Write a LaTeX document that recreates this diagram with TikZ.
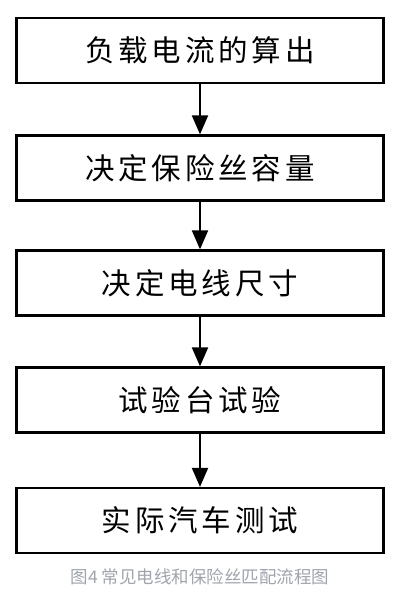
\documentclass[tikz,border=0pt]{standalone}
\usepackage{fontspec}
\newfontfamily\cjk[LetterSpace=13]{Noto Sans CJK SC}
\newfontfamily\cjkcap{Noto Sans CJK SC}
\usetikzlibrary{arrows.meta}
\definecolor{capgray}{RGB}{160,164,172}
\begin{document}
\begin{tikzpicture}[x=1pt,y=1pt,
  stepbox/.style={draw=black,line width=2.2pt,minimum width=367pt,minimum height=65pt,inner sep=0pt,
    font=\cjk\fontsize{29.5}{31}\selectfont},
  flow/.style={line width=2pt,-{Triangle[width=16pt,length=19pt]}}]
\useasboundingbox (0,0) rectangle (405,595);
\node[stepbox] (b1) at (200,544.5) {负载电流的算出};
\node[stepbox] (b2) at (200,427) {决定保险丝容量};
\node[stepbox] (b3) at (200,312) {决定电线尺寸};
\node[stepbox] (b4) at (200,195) {试验台试验};
\node[stepbox] (b5) at (200,74.5) {实际汽车测试};
\draw[flow] (b1) -- (b2);
\draw[flow] (b2) -- (b3);
\draw[flow] (b3) -- (b4);
\draw[flow] (b4) -- (b5);
\node[text=capgray,font=\cjkcap\fontsize{17.5}{20}\selectfont] (cap) at (200,18) {图4 常见电线和保险丝匹配流程图};
\end{tikzpicture}
\end{document}
